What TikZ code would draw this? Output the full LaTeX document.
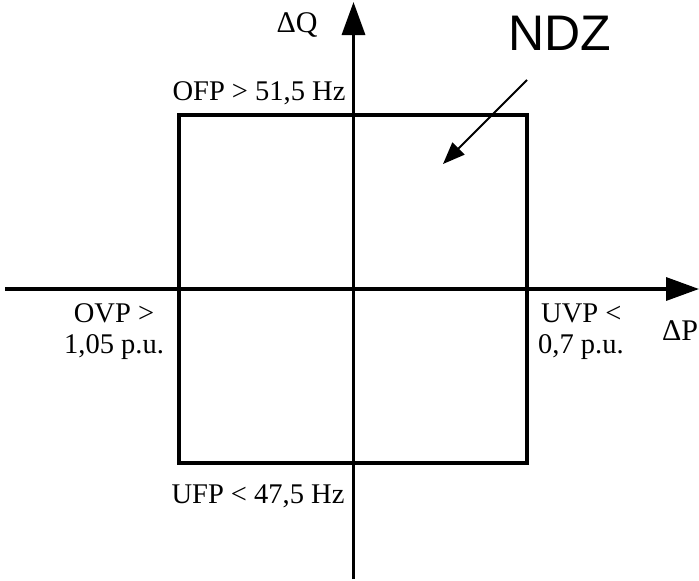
\documentclass[tikz,border=0pt]{standalone}
\usepackage{fontspec}
\setmainfont{Liberation Serif}
\newfontfamily\ndzfont{Liberation Sans}
\usetikzlibrary{arrows.meta}
\begin{document}
\begin{tikzpicture}[x=1pt,y=-1pt,
  axis/.style={line width=3.4pt,-{Triangle[length=33pt,width=23pt]}},
  boxline/.style={draw,line width=3.2pt,minimum width=348pt,minimum height=348pt,inner sep=0pt},
  lbl/.style={font=\fontsize{28.5}{31}\selectfont,inner sep=0pt},
  big/.style={font=\fontsize{30}{33}\selectfont,inner sep=0pt},
  pointer/.style={line width=1.8pt,-{Triangle[length=22pt,width=17pt]}}]
\useasboundingbox (0,0) rectangle (699,581);
\coordinate (xl) at (5,289);
\coordinate (xr) at (699,289);
\coordinate (yb) at (353.5,579);
\coordinate (yt) at (353.5,2);
\node[boxline] (ndzbox) at (353,289) {};
\draw[axis] (xl) -- (xr);
\draw[axis] (yb) -- (yt);
\node[big,anchor=base] (dq) at (297,32) {ΔQ};
\node[big,anchor=base west] (dp) at (662,340) {ΔP};
\node[lbl,anchor=base] (ofp) at (259,100) {OFP > 51,5 Hz};
\node[lbl,anchor=base] (ufp) at (258,503) {UFP < 47,5 Hz};
\node[lbl,anchor=base] (ovp1) at (114,322) {OVP >};
\node[lbl,anchor=base] (ovp2) at (114,353) {1,05 p.u.};
\node[lbl,anchor=base west] (uvp1) at (541,322) {UVP <};
\node[lbl,anchor=base west] (uvp2) at (538,353) {0,7 p.u.};
\node[font=\ndzfont\fontsize{50}{55}\selectfont,inner sep=0pt,anchor=base] (ndz) at (560,50) {NDZ};
\coordinate (ps) at (527,80);
\coordinate (pe) at (443,164);
\draw[pointer] (ps) -- (pe);
\end{tikzpicture}
\end{document}
